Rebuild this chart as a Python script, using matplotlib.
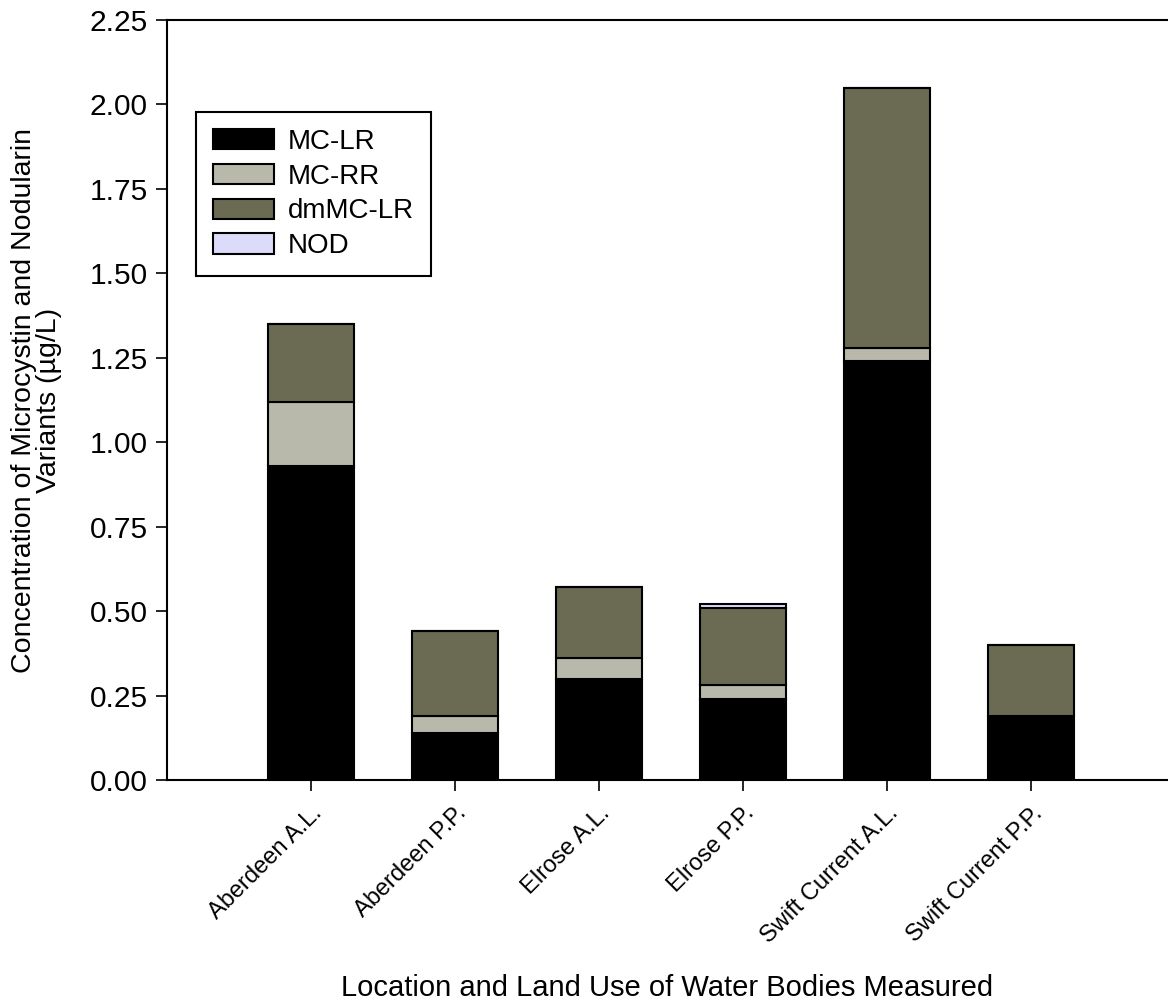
import numpy as np
import matplotlib
matplotlib.use('Agg')
import matplotlib.pyplot as plt
from matplotlib.ticker import FormatStrFormatter

plt.rcParams['font.family'] = ['Liberation Sans', 'DejaVu Sans']

sites = ['Aberdeen A.L.', 'Aberdeen P.P.', 'Elrose A.L.', 'Elrose P.P.',
         'Swift Current A.L.', 'Swift Current P.P.']
mc_lr = [0.93, 0.14, 0.30, 0.24, 1.24, 0.19]
mc_rr = [0.19, 0.05, 0.06, 0.04, 0.04, 0.00]
dm_mc_lr = [0.23, 0.25, 0.21, 0.23, 0.77, 0.21]
nod = [0.00, 0.00, 0.00, 0.01, 0.00, 0.00]
yticks = [0, 0.25, 0.5, 0.75, 1.0, 1.25, 1.5, 1.75, 2.0, 2.25]

series = [('MC-LR', mc_lr, '#000000'),
          ('MC-RR', mc_rr, '#b8b8ab'),
          ('dmMC-LR', dm_mc_lr, '#6b6b54'),
          ('NOD', nod, '#dcdcfa')]

fig = plt.figure(figsize=(11.68, 10.07), dpi=100)
ax = fig.add_axes([0.143, 0.2254, 0.857, 0.7547])

x = np.arange(len(sites))
bottom = np.zeros(len(sites))
for name, vals, col in series:
    vals = np.array(vals)
    ax.bar(x, vals, width=0.6, bottom=bottom, color=col, edgecolor='black',
           linewidth=1.5, label=name)
    bottom += vals

ax.set_xlim(-1.0, 5.95)
ax.set_ylim(0, 2.25)
ax.set_yticks(yticks)
ax.yaxis.set_major_formatter(FormatStrFormatter('%.2f'))
ax.set_xticks(x)
ax.set_xticklabels(sites, rotation=45, ha='right', rotation_mode='anchor', fontsize=17)
ax.tick_params(axis='y', labelsize=21.5, direction='out', length=8, width=1.2, pad=6)
ax.tick_params(axis='x', direction='out', length=8, width=1.2, pad=8)

ax.spines['right'].set_visible(False)
for s in ['left', 'top', 'bottom']:
    ax.spines[s].set_linewidth(1.5)

ax.set_ylabel('Concentration of Microcystin and Nodularin\nVariants (\u00b5g/L)',
              fontsize=20.5, labelpad=20, linespacing=0.95)
ax.set_xlabel('Location and Land Use of Water Bodies Measured', fontsize=21, labelpad=19)

leg = ax.legend(loc='upper left', bbox_to_anchor=(0.029, 0.879), borderaxespad=0,
                fontsize=20, fancybox=False, edgecolor='black', framealpha=1,
                handlelength=2.2, handleheight=0.75, labelspacing=0.32,
                borderpad=0.6, handletextpad=0.5)
leg.get_frame().set_linewidth(1.5)

fig.savefig('out.png', dpi=100)
